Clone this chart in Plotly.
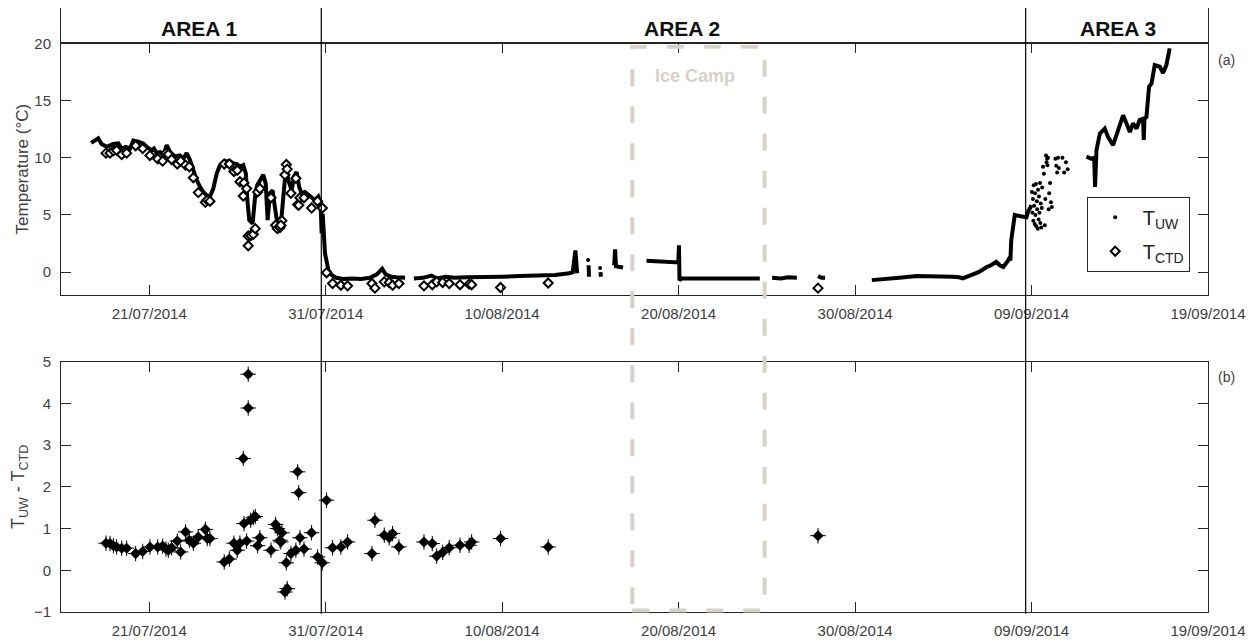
import pandas as pd
import plotly.graph_objects as go

# ---------------- data (days since 16/07/2014 00:00) ----------------
T0 = pd.Timestamp("2014-07-16")

# underway temperature, continuous segments (None = gap)
uw_days = [1.71, 2.0, 2.11, 2.3, 2.59, 2.96, 3.25, 3.44, 3.68, 3.91, 4.1, 4.38, 4.66, 4.86,
           5.14, 5.27, 5.42, 5.61, 5.8, 5.99, 6.18, 6.46, 6.74, 6.93, 7.12, 7.31, 7.5, 7.69,
           7.88, 8.06, 8.26, 8.44, 8.63, 8.82, 9.01, 9.29, 9.58, 9.76, 9.95, 10.14, 10.33,
           10.48, 10.56, 10.67, 10.86, 11.0, 11.12, 11.27, 11.46, 11.6, 11.71, 11.84, 11.99,
           12.12, 12.26, 12.5, 12.63, 12.75, 12.88, 13.07, 13.2, 13.35, 13.5, 13.64, 13.82,
           14.11, 14.39, 14.58, 14.71, 14.77, 14.83, 14.96, 15.15, 15.34, 15.6, 16.0, 16.5,
           17.0, 17.5, 17.9, 18.2, 18.4, 18.7, 19.0, 19.5, None,
           20.0, 20.5, 21.0, 21.3, 21.8, 22.3, 23.0, 24.0, 25.0, 26.0, 27.0, 28.0, 28.8, 29.0,
           29.15, 29.2, 29.25, None,
           29.9, 29.92, None, 30.57, 30.6, None,
           31.35, 31.4, 31.45, 31.6, 31.85, None,
           33.18, 33.6, 34.0, 34.5, 34.9, 34.98, 35.02, 35.05, 35.2, 36.0, 37.0, 38.0, 39.0, 39.6, None,
           40.3, 40.8, 41.2, 41.7, None,
           42.9, 43.1, 43.3, None,
           45.95, 46.5, 47.5, 48.5, 49.5, 50.5, 50.9, 51.1, 51.5, 52.0, 52.46, 52.7, 53.0, 53.2,
           53.4, 53.55, 53.67, 53.77, 53.8, 53.85, 53.95, 54.05, 54.3, 54.52, 54.71, 54.81, 55.0, None,
           58.11, 58.4, 58.55, 58.6, 58.68, 58.87, 59.15, 59.34, 59.62, 59.9, 60.19, 60.38, 60.57,
           60.75, 60.95, 61.13, 61.32, 61.36, 61.4, 61.51, 61.66, 61.8, 61.98, 62.27, 62.45,
           62.64, 62.83]
uw_vals = [11.3, 11.6, 11.7, 11.2, 10.95, 11.2, 11.25, 10.8, 10.95, 10.8, 11.5, 11.4, 11.25, 10.95,
           10.65, 10.8, 10.4, 10.5, 10.2, 11.1, 10.5, 10.1, 10.2, 9.9, 10.4, 9.8, 8.9, 8.05,
           7.45, 7.0, 6.7, 6.6, 7.3, 8.6, 9.35, 9.7, 9.7, 9.5, 9.45, 9.2, 9.35,
           8.6, 6.3, 4.55, 4.25, 6.6, 7.6, 8.05, 8.5, 7.75, 4.55, 6.9, 7.15,
           5.7, 4.25, 4.85, 6.9, 9.2, 8.05, 7.15, 8.35, 8.75, 7.45, 6.9, 7.0,
           6.6, 6.3, 6.6, 6.0, 3.4, 5.1, 1.65, 0.2, -0.25, -0.5, -0.6, -0.55,
           -0.6, -0.5, -0.2, 0.3, -0.2, -0.4, -0.45, -0.5, None,
           -0.55, -0.5, -0.3, -0.55, -0.4, -0.5, -0.45, -0.45, -0.4, -0.35, -0.3, -0.25, -0.1, 0.0,
           1.9, 0.0, -0.1, None,
           0.6, -0.4, None, 0.0, -0.4, None,
           0.6, 2.0, 0.5, 0.45, 0.4, None,
           1.0, 0.95, 0.95, 0.9, 0.85, 0.85, 2.35, -0.7, -0.55, -0.55, -0.5, -0.55, -0.55, -0.55, None,
           -0.5, -0.55, -0.45, -0.5, None,
           -0.35, -0.5, -0.5, None,
           -0.7, -0.65, -0.5, -0.35, -0.35, -0.4, -0.45, -0.55, -0.3, 0.0, 0.45, 0.6, 0.9, 0.6,
           0.45, 0.7, 1.0, 1.3, 1.0, 2.8, 4.0, 5.0, 4.9, 4.85, 4.8, 5.3, 5.85, None,
           10.1, 9.9, 10.0, 7.45, 10.65, 12.1, 12.55, 11.8, 11.1, 12.4, 13.7, 13.0, 12.25,
           13.0, 12.55, 13.3, 13.4, 11.55, 13.4, 13.55, 16.2, 16.5, 18.1, 17.95, 17.4,
           18.1, 19.55]

# underway temperature, isolated samples
uwd_days = [29.87, 30.55, 55.02, 55.05, 55.08, 55.1, 55.12, 55.15, 55.18, 55.2, 55.22, 55.25,
            55.27, 55.3, 55.32, 55.35, 55.37, 55.4, 55.42, 55.45, 55.48, 55.5, 55.52, 55.55,
            55.58, 55.6, 55.65, 55.7, 55.75, 55.78, 55.82, 55.85, 55.88, 55.9, 55.93, 55.97,
            56.0, 56.05, 56.1, 56.15, 56.35, 56.4, 56.45, 56.5, 56.55, 56.75, 56.85, 56.95, 57.05]
uwd_vals = [1.05, 0.35, 7.0, 5.2, 6.4, 4.5, 7.6, 5.8, 4.2, 6.9, 5.0, 7.7,
            4.0, 6.2, 5.5, 3.8, 7.2, 4.6, 6.6, 5.2, 7.8, 4.3, 6.0, 3.9,
            5.6, 7.4, 9.2, 8.6, 4.1, 6.4, 10.2, 9.6, 9.9, 9.35, 10.0, 5.5,
            6.9, 7.8, 6.1, 5.7, 9.9, 9.3, 8.7, 10.0, 9.1, 10.0, 8.7, 9.6, 9.0]

# CTD stations: time, CTD temperature, difference T_UW - T_CTD
ctd_days = [2.55, 2.78, 2.97, 3.15, 3.44, 3.72, 4.23, 4.63, 5.04, 5.48, 5.76, 5.95, 6.08, 6.27,
            6.59, 6.78, 7.06, 7.27, 7.5, 7.78, 8.18, 8.29, 8.44, 9.25, 9.54, 9.8, 9.99, 10.14,
            10.33, 10.37, 10.52, 10.61, 10.61, 10.75, 10.9, 11.01, 11.14, 11.27, 11.9, 12.16,
            12.26, 12.41, 12.52, 12.46, 12.77, 12.69, 12.82, 13.03, 13.31, 13.41, 13.47, 13.54,
            13.77, 14.2, 14.54, 14.81, 15.05, 15.39, 15.86, 16.24, 17.62, 17.79, 18.32, 18.6,
            18.79, 19.15, 20.57, 21.04, 21.29, 21.63, 22.0, 22.61, 23.13, 23.27, 24.91, 27.61,
            42.9]
ctd_temp = [10.4, 10.4, 10.6, 10.65, 10.27, 10.4, 11.05, 10.8, 10.2, 9.9, 9.7, 10.4, 10.3, 9.85,
            9.45, 9.7, 9.35, 9.2, 8.25, 6.95, 6.1, 6.3, 6.2, 9.45, 9.45, 8.8, 8.9, 7.9,
            6.65, 7.8, 7.3, 2.3, 3.15, 3.2, 3.3, 3.8, 7.0, 7.3, 6.5, 4.1,
            3.8, 3.9, 4.5, 4.1, 9.4, 8.5, 9.0, 6.9, 8.2, 5.9, 5.85, 6.5,
            6.5, 5.6, 6.2, 5.6, -0.05, -1.0, -1.15, -1.2, -1.0, -1.4, -0.85, -0.9,
            -1.15, -1.0, -1.2, -1.1, -0.85, -0.9, -1.0, -1.1, -1.05, -1.1, -1.35, -0.95,
            -1.4]
ctd_diff = [0.65, 0.64, 0.59, 0.56, 0.53, 0.53, 0.40, 0.45, 0.56, 0.56, 0.58, 0.51, 0.48, 0.54,
            0.70, 0.44, 0.92, 0.72, 0.65, 0.80, 0.98, 0.76, 0.76, 0.20, 0.27, 0.65, 0.48, 0.65,
            2.68, 1.12, 0.70, 4.70, 3.89, 1.20, 1.26, 1.29, 0.59, 0.78, 0.48, 1.10,
            1.00, 0.72, 0.90, 0.68, 0.18, -0.52, -0.44, 0.40, 0.48, 2.36, 1.86, 0.78,
            0.51, 0.90, 0.32, 0.18, 1.68, 0.54, 0.56, 0.68, 0.40, 1.20, 0.84, 0.78,
            0.88, 0.56, 0.68, 0.64, 0.34, 0.43, 0.54, 0.60, 0.60, 0.68, 0.76, 0.56,
            0.83]

area_bounds = ["2014-07-30 18:00", "2014-09-08 16:00"]
area_names = ["AREA 1", "AREA 2", "AREA 3"]
ice_camp = ["2014-08-17 09:00", "2014-08-24 21:00"]
x_ticks = ["2014-07-21", "2014-07-31", "2014-08-10", "2014-08-20",
           "2014-08-30", "2014-09-09", "2014-09-19"]
x_range = ["2014-07-16", "2014-09-19"]


def to_dt(days):
    return [None if d is None else T0 + pd.Timedelta(days=d) for d in days]


# ---------------- figure ----------------
FONT = "Liberation Sans, Arial, Helvetica, sans-serif"
AX = "#262626"
TXT = "#404040"
ICE = "#d6d2c9"

# page body has an 8px margin: the figure is laid out so the plot area lands at
# screen x 61..1208, y 8..612
OFF = 8
W, HGT = 1250, 632
ML, MR, MT = 61 - OFF, 50, 0
PW = 1147.0
PH = 604.0
MB = HGT - MT - int(PH)


def py(screen_y):
    return (612 - screen_y) / PH


def px(screen_x):
    return (screen_x - 61) / PW


fig = go.Figure()

fig.add_trace(go.Scatter(x=to_dt(uw_days), y=uw_vals, mode="lines",
                         line=dict(color="black", width=4), showlegend=False,
                         xaxis="x", yaxis="y", hoverinfo="skip"))
fig.add_trace(go.Scatter(x=to_dt(uwd_days), y=uwd_vals, mode="markers",
                         marker=dict(color="black", size=4), name="T<sub>UW</sub>",
                         legendgroup="uw", xaxis="x", yaxis="y"))
fig.add_trace(go.Scatter(x=to_dt(ctd_days), y=ctd_temp, mode="markers",
                         marker=dict(symbol="diamond", color="white", size=7,
                                     line=dict(color="black", width=2)),
                         name="T<sub>CTD</sub>", legendgroup="ctd", xaxis="x", yaxis="y"))
fig.add_trace(go.Scatter(x=to_dt(ctd_days), y=ctd_diff, mode="markers",
                         marker=dict(symbol="cross-thin", size=11,
                                     line=dict(color="black", width=1)),
                         showlegend=False, xaxis="x2", yaxis="y2", hoverinfo="skip"))
fig.add_trace(go.Scatter(x=to_dt(ctd_days), y=ctd_diff, mode="markers",
                         marker=dict(symbol="diamond", color="black", size=8.5),
                         showlegend=False, xaxis="x2", yaxis="y2"))

# header strip axes
fig.add_trace(go.Scatter(x=[None], y=[None], showlegend=False, xaxis="x3", yaxis="y3"))

common_x = dict(range=x_range, tickvals=x_ticks, tickformat="%d/%m/%Y",
                ticks="inside", ticklen=10, tickcolor=AX, tickwidth=1,
                showline=True, linecolor=AX, linewidth=1, mirror="ticks",
                showgrid=False, zeroline=False, automargin=False,
                tickfont=dict(family=FONT, size=15, color=TXT), ticklabelstandoff=5)
common_y = dict(ticks="inside", ticklen=10, tickcolor=AX, tickwidth=1,
                showline=True, linecolor=AX, linewidth=1, mirror="ticks",
                showgrid=False, zeroline=False, automargin=False,
                tickfont=dict(family=FONT, size=15, color=TXT), ticklabelstandoff=6)

fig.update_layout(
    width=W, height=HGT,
    margin=dict(l=ML, r=MR, t=MT, b=MB, autoexpand=False),
    paper_bgcolor="white", plot_bgcolor="white",
    font=dict(family=FONT, color=TXT),
    xaxis=dict(domain=[0, 1], anchor="y", **common_x),
    yaxis=dict(domain=[py(295), py(43.3)], anchor="x", range=[-2, 20],
               tickvals=[0, 5, 10, 15, 20],
               title=dict(text="Temperature (°C)", font=dict(family=FONT, size=17, color=TXT),
                          standoff=1),
               **common_y),
    xaxis2=dict(domain=[0, 1], anchor="y2", matches="x", **common_x),
    yaxis2=dict(domain=[0, py(361.7)], anchor="x2", range=[-1, 5],
                tickvals=[-1, 0, 1, 2, 3, 4, 5],
                title=dict(text="T<sub>UW</sub> - T<sub>CTD</sub>",
                           font=dict(family=FONT, size=18, color=TXT), standoff=8),
                **common_y),
    xaxis3=dict(domain=[0, 1], anchor="y3", matches="x", showticklabels=False,
                ticks="", showline=True, linecolor=AX, linewidth=1, mirror=True,
                showgrid=False, zeroline=False, automargin=False),
    yaxis3=dict(domain=[py(43.3), 1], anchor="x3", range=[0, 1], showticklabels=False,
                ticks="", showline=True, linecolor=AX, linewidth=1, mirror=True,
                showgrid=False, zeroline=False, automargin=False),
    legend=dict(x=px(1086.7), y=py(196.7), xanchor="left", yanchor="top",
                bgcolor="white", bordercolor=AX, borderwidth=1,
                font=dict(family=FONT, size=20, color="#222222"),
                itemwidth=45, tracegroupgap=5),
    showlegend=True,
)

# area boundaries
for b in area_bounds:
    fig.add_shape(type="line", xref="x", yref="paper", x0=b, x1=b, y0=-0.003, y1=1,
                  line=dict(color="black", width=1.2))

# ice camp box
fig.add_shape(type="rect", xref="x", yref="paper", x0=ice_camp[0], x1=ice_camp[1],
              y0=py(610.5), y1=py(46.7),
              line=dict(color=ICE, width=4, dash="17px,20px"), fillcolor="rgba(0,0,0,0)")

# labels
for name, xs in zip(area_names, [199, 681.7, 1118]):
    fig.add_annotation(text="<b>" + name + "</b>", xref="paper", yref="paper",
                       x=px(xs), y=py(28.5), xanchor="center", yanchor="middle",
                       showarrow=False, font=dict(family=FONT, size=21, color="#111111"))
fig.add_annotation(text="<b>Ice Camp</b>", xref="paper", yref="paper",
                   x=px(695), y=py(76), xanchor="center", yanchor="middle", showarrow=False,
                   font=dict(family=FONT, size=18, color=ICE))
fig.add_annotation(text="(a)", xref="paper", yref="paper", x=px(1216), y=py(60),
                   xanchor="left", yanchor="middle",
                   showarrow=False, font=dict(family=FONT, size=14, color=TXT))
fig.add_annotation(text="(b)", xref="paper", yref="paper", x=px(1216), y=py(377),
                   xanchor="left", yanchor="middle",
                   showarrow=False, font=dict(family=FONT, size=14, color=TXT))

fig.write_html("out.html")
